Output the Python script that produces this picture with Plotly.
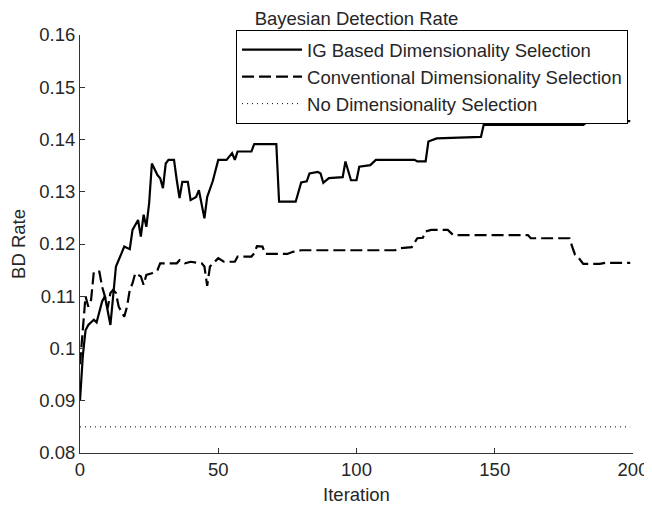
import plotly.graph_objects as go

# ---- data ----
ig_x = [0, 1, 2, 3, 5, 6, 8, 9, 11, 12, 13, 15, 16, 18, 19, 21, 22, 23, 24, 25,
        26, 28, 29, 30, 31, 32, 34, 35, 36, 37, 39, 40, 42, 43, 45, 46, 48, 50, 53, 55,
        56, 57, 62, 63, 71, 72, 78, 80, 82, 83, 86, 87, 88, 90, 95, 96, 97, 98, 100, 101,
        105, 107, 121, 122, 125, 126, 129, 145, 146, 182, 183, 193, 194, 199]
ig_y = [0.090, 0.0985, 0.1035, 0.1045, 0.1055, 0.1050, 0.1090, 0.1100, 0.1045, 0.1100,
        0.1157, 0.1182, 0.1195, 0.1190, 0.1227, 0.1246, 0.1214, 0.1256, 0.1233, 0.1278,
        0.1354, 0.1332, 0.1326, 0.1307, 0.1354, 0.1361, 0.1361, 0.1322, 0.1288, 0.1319,
        0.1319, 0.1284, 0.1290, 0.1303, 0.1249, 0.1290, 0.1320, 0.1361, 0.1361, 0.1374,
        0.1361, 0.1377, 0.1377, 0.1391, 0.1391, 0.1281, 0.1281, 0.1318, 0.1320, 0.1335,
        0.1338, 0.1335, 0.1317, 0.1326, 0.1328, 0.1358, 0.1342, 0.1322, 0.1322, 0.1348,
        0.1351, 0.1361, 0.1361, 0.1358, 0.1358, 0.1396, 0.1402, 0.1405, 0.1428, 0.1428,
        0.1432, 0.1432, 0.1435, 0.1435]

conv_x = [0, 1, 2, 3, 4, 5, 7, 8, 9, 10, 11, 12, 13, 14, 16, 17, 18, 19, 20, 22,
          23, 24, 26, 28, 29, 35, 36, 38, 40, 44, 45, 46, 47, 50, 52, 56, 57, 62, 63, 64,
          66, 67, 75, 77, 80, 114, 116, 120, 122, 124, 125, 127, 133, 135, 162, 163, 177, 178, 179, 180,
          182, 188, 190, 199]
conv_y = [0.0970, 0.1030, 0.1100, 0.1080, 0.1093, 0.1147, 0.1147, 0.1118, 0.1100, 0.1077,
          0.1106, 0.1112, 0.1106, 0.1080, 0.1061, 0.1080, 0.1112, 0.1125, 0.1144, 0.1138,
          0.1122, 0.1141, 0.1144, 0.1150, 0.1163, 0.1163, 0.1169, 0.1163, 0.1166, 0.1163,
          0.1157, 0.1120, 0.1157, 0.1173, 0.1166, 0.1166, 0.1176, 0.1176, 0.1182, 0.1196,
          0.1195, 0.1181, 0.1181, 0.1185, 0.1188, 0.1188, 0.1192, 0.1194, 0.1211, 0.1212,
          0.1224, 0.1227, 0.1227, 0.1217, 0.1217, 0.1211, 0.1211, 0.1195, 0.1180, 0.1176,
          0.1162, 0.1162, 0.1164, 0.1164]

none_x = [0, 199]
none_y = [0.085, 0.085]

x_ticks = [0, 50, 100, 150, 200]
y_ticks = [0.08, 0.09, 0.10, 0.11, 0.12, 0.13, 0.14, 0.15, 0.16]
y_ticktext = ["0.08", "0.09", "0.1", "0.11", "0.12", "0.13", "0.14", "0.15", "0.16"]

names = ["IG Based Dimensionality Selection",
         "Conventional Dimensionality Selection",
         "No Dimensionality Selection"]

FONT = "Liberation Sans, Arial, sans-serif"
TXT = "#262626"

# page body has an 8px margin; figure sized to the rest of the 652x507 window
W, H = 644, 499
L, R, T, B = 72, 19, 27, 54
PH = H - T - B

fig = go.Figure()
fig.add_trace(go.Scatter(x=ig_x, y=ig_y, mode="lines", name=names[0],
                         line=dict(color="black", width=2.2)))
fig.add_trace(go.Scatter(x=conv_x, y=conv_y, mode="lines", name=names[1],
                         line=dict(color="black", width=2.2, dash="12px,5px")))
fig.add_trace(go.Scatter(x=none_x, y=none_y, mode="lines", name=names[2],
                         line=dict(color="black", width=1, dash="1px,4px")))

fig.update_layout(
    width=W, height=H,
    margin=dict(l=L, r=R, t=T, b=B, autoexpand=False),
    paper_bgcolor="white", plot_bgcolor="white",
    font=dict(family=FONT, size=18.5, color=TXT),
    title=dict(text="Bayesian Detection Rate", x=(L + (W - R)) / 2 / W, xanchor="center",
               y=1 - 11 / H, yanchor="middle", font=dict(size=18.5, color=TXT)),
    showlegend=True,
    legend=dict(x=0.991, xanchor="right", y=1 + 5 / PH, yanchor="top",
                bgcolor="white", bordercolor="black", borderwidth=1,
                itemwidth=60, tracegroupgap=0,
                font=dict(size=18.5, color=TXT)),
    xaxis=dict(range=[0, 200], tickvals=x_ticks, ticks="inside", ticklen=5,
               showline=True, linecolor="#333", linewidth=1, tickcolor="#333",
               showgrid=False, zeroline=False, mirror=False, automargin=False,
               tickfont=dict(size=18.5),
               title=dict(text="Iteration", standoff=8, font=dict(size=18.5))),
    yaxis=dict(range=[0.08, 0.16], tickvals=y_ticks, ticktext=y_ticktext,
               ticks="inside", ticklen=5,
               showline=True, linecolor="#333", linewidth=1, tickcolor="#333",
               showgrid=False, zeroline=False, mirror=False, automargin=False,
               tickfont=dict(size=18.5),
               title=dict(text="BD Rate", standoff=8, font=dict(size=18.5))),
)

fig.write_html("out.html")
